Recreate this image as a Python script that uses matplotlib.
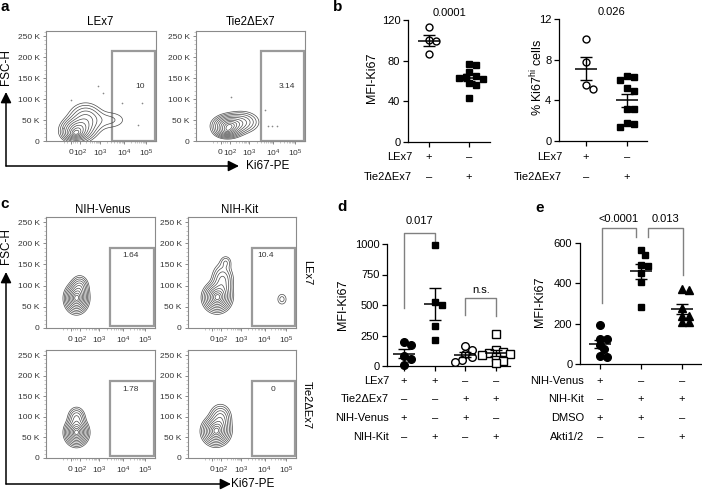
import numpy as np
import matplotlib
matplotlib.use('Agg')
import matplotlib.pyplot as plt
from matplotlib.patches import Rectangle

plt.rcParams['font.family'] = ['Liberation Sans', 'DejaVu Sans']
plt.rcParams['mathtext.fontset'] = 'custom'
plt.rcParams['mathtext.rm'] = 'Liberation Sans'
plt.rcParams['mathtext.it'] = 'Liberation Sans:italic'

W, H = 702, 491

# ---------------- data ----------------
# flow plots: density blobs (x in display units 0-1, y in K, sx, sy, weight)
blobs_a_lex7 = [(0.28, 26, 0.07, 14, 1.0), (0.36, 50, 0.08, 20, 0.5),
                (0.58, 50, 0.10, 14, 0.12), (0.26, 16, 0.05, 7, 0.5)]
blobs_a_tie2 = [(0.30, 36, 0.07, 12, 1.0), (0.42, 45, 0.08, 13, 0.35),
                (0.28, 22, 0.05, 7, 0.45)]
blobs_c_venus_lex7 = [(0.28, 70, 0.05, 16, 1.0), (0.31, 98, 0.04, 13, 0.3)]
blobs_c_kit_lex7 = [(0.27, 72, 0.06, 16, 1.0), (0.32, 112, 0.05, 20, 0.35),
                    (0.35, 155, 0.03, 9, 0.12), (0.87, 68, 0.03, 9, 0.1)]
blobs_c_venus_tie2 = [(0.28, 62, 0.05, 15, 1.0), (0.28, 98, 0.04, 13, 0.3)]
blobs_c_kit_tie2 = [(0.26, 65, 0.06, 16, 1.0), (0.30, 98, 0.05, 16, 0.35)]

# sparse events outside the contours (display x, K)
dots_a_lex7_x = [0.23, 0.47, 0.52, 0.69, 0.87, 0.15, 0.84]
dots_a_lex7_y = [98, 131, 114, 90, 91, 31, 38]
dots_a_tie2_x = [0.32, 0.63, 0.66, 0.70, 0.74]
dots_a_tie2_y = [104, 74, 36, 35, 35]

gate_pct_a = ['10', '3.14']
gate_pct_c = ['1.64', '10.4', '1.78', '0']

flow_xtick_labels = ['$0$', '$10^2$', '$10^3$', '$10^4$', '$10^5$']
flow_ytick_vals = [0, 50, 100, 150, 200, 250]
flow_ytick_labels = ['0', '50 K', '100 K', '150 K', '200 K', '250 K']

# panel b
b_mfi_lex7 = [113, 99, 100, 87]
b_mfi_tie2 = [77, 76, 69, 65, 64, 63, 62, 58, 56, 43]
b_pct_lex7 = [10.0, 7.8, 5.1, 5.5]
b_pct_tie2 = [6.3, 6.0, 6.4, 5.2, 4.9, 3.1, 3.1, 1.8, 1.4, 1.7]
b_rows = ['LEx7', 'Tie2\u0394Ex7']
b_signs = [['+', '\u2013'], ['\u2013', '+']]

# panel d
d_lex7_venus = [195, 170, 80, 55, 10]
d_lex7_kit = [988, 524, 497, 328, 212]
d_tie2_venus = [165, 130, 95, 70, 50, 35]
d_tie2_kit = [266, 130, 118, 108, 100, 92, 75, 40, 25]
d_rows = ['LEx7', 'Tie2\u0394Ex7', 'NIH-Venus', 'NIH-Kit']
d_signs = [['+', '+', '\u2013', '\u2013'], ['\u2013', '\u2013', '+', '+'],
           ['+', '\u2013', '+', '\u2013'], ['\u2013', '+', '\u2013', '+']]

# panel e
e_venus_dmso = [194, 123, 125, 95, 72, 36, 41]
e_kit_dmso = [563, 540, 485, 490, 449, 408, 281]
e_kit_akti = [367, 370, 276, 238, 238, 207, 210]
e_rows = ['NIH-Venus', 'NIH-Kit', 'DMSO', 'Akti1/2']
e_signs = [['+', '\u2013', '\u2013'], ['\u2013', '+', '+'],
           ['+', '+', '\u2013'], ['\u2013', '\u2013', '+']]

fig = plt.figure(figsize=(W / 100, H / 100), dpi=100)


def px_rect(l, t, r, b):
    return [l / W, 1 - b / H, (r - l) / W, (b - t) / H]


# overlay axes in pixel coordinates for labels and arrows
ov = fig.add_axes([0, 0, 1, 1])
ov.set_xlim(0, W)
ov.set_ylim(H, 0)
ov.axis('off')


def flow_plot(rect, blobs, gate_top, gate_bottom, gate_left, label, lab_xy, dots=None):
    ax = fig.add_axes(px_rect(*rect))
    xs = np.linspace(0, 1, 240)
    ys = np.linspace(0, 262.144, 240)
    X, Y = np.meshgrid(xs, ys)
    Z = np.zeros_like(X)
    for cx, cy, sx, sy, w in blobs:
        Z += w * np.exp(-0.5 * ((X - cx) / sx) ** 2 - 0.5 * ((Y - cy) / sy) ** 2)
    radii = np.linspace(0.35, 2.5, 10)
    levels = np.sort(np.exp(-0.5 * radii ** 2)) * Z.max()
    ax.contour(X, Y, Z, levels=levels, colors='#4a4a4a', linewidths=0.5)
    if dots is not None:
        ax.plot(dots[0], dots[1], ls='none', marker='o', ms=1.2, color='#888888', mew=0)
    ax.add_patch(Rectangle((gate_left, gate_bottom), 0.995 - gate_left, gate_top - gate_bottom,
                           fill=False, ec='#9a9a9a', lw=1.6, clip_on=False))
    ax.text(lab_xy[0], lab_xy[1], label, fontsize=6, ha='center', va='center', color='#333333')
    ax.set_xlim(0, 1)
    ax.set_ylim(0, 262.144)
    ax.set_xticks([0.225, 0.31, 0.49, 0.71, 0.91])
    ax.set_xticklabels(flow_xtick_labels)
    ax.set_yticks(flow_ytick_vals)
    ax.set_yticklabels(flow_ytick_labels)
    minor_x = []
    for p, w in [(0.31, 0.18), (0.49, 0.22), (0.71, 0.20)]:
        minor_x += [p + np.log10(k) * w for k in range(2, 10)]
    minor_x += [0.245, 0.265, 0.285, 0.16, 0.19]
    ax.set_xticks(minor_x, minor=True)
    ax.set_yticks(np.arange(0, 262, 10), minor=True)
    ax.tick_params(which='major', length=2.5, width=0.6, labelsize=6, pad=2,
                   colors='#777777', labelcolor='#333333')
    ax.tick_params(which='minor', length=1.5, width=0.4, colors='#999999')
    for s in ax.spines.values():
        s.set_color('#8a8a8a')
        s.set_linewidth(0.8)
    return ax


# ---- panel a ----
flow_plot((46, 31, 156, 141), blobs_a_lex7, 214, 1, 0.60, gate_pct_a[0], (0.855, 129),
          (dots_a_lex7_x, dots_a_lex7_y))
flow_plot((196, 31, 305, 141), blobs_a_tie2, 214, 1, 0.60, gate_pct_a[1], (0.83, 129),
          (dots_a_tie2_x, dots_a_tie2_y))
ov.text(100, 22, 'LEx7', fontsize=8.3, ha='center', va='center')
ov.text(251, 22, 'Tie2\u0394Ex7', fontsize=8.3, ha='center', va='center')

# ---- panel c ----
flow_plot((46, 217, 155, 328), blobs_c_venus_lex7, 189, 5, 0.59, gate_pct_c[0], (0.78, 172))
flow_plot((188, 217, 296, 328), blobs_c_kit_lex7, 189, 5, 0.59, gate_pct_c[1], (0.72, 172))
flow_plot((46, 350, 155, 458), blobs_c_venus_tie2, 187, 5, 0.59, gate_pct_c[2], (0.78, 167))
flow_plot((188, 350, 296, 458), blobs_c_kit_tie2, 187, 5, 0.59, gate_pct_c[3], (0.79, 167))
ov.text(103, 210, 'NIH-Venus', fontsize=8.3, ha='center', va='center')
ov.text(240, 210, 'NIH-Kit', fontsize=8.3, ha='center', va='center')
ov.text(307, 273, 'LEx7', fontsize=8, ha='center', va='center', rotation=-90)
ov.text(307, 405, 'Tie2\u0394Ex7', fontsize=8, ha='center', va='center', rotation=-90)

# axis arrows for flow panels
arrow_kw = dict(arrowstyle='-|>', color='black', lw=1.1, mutation_scale=16,
                shrinkA=0, shrinkB=0)
for corner, top_y, right_x, fsc_y, ki_x in [((6, 166), 92, 239, 67, 268),
                                             ((6, 484), 272, 231, 246, 253)]:
    ov.annotate('', xy=(corner[0], top_y), xytext=corner, arrowprops=arrow_kw)
    ov.annotate('', xy=(right_x, corner[1]), xytext=corner, arrowprops=arrow_kw)
    ov.text(corner[0], fsc_y, 'FSC-H', fontsize=8.5, rotation=90, ha='center', va='center')
    ov.text(ki_x, corner[1], 'Ki67-PE', fontsize=8.5, ha='center', va='center')


# ---- dot plots ----
def swarm(vals, xscale, yscale, d=7.0):
    offs = np.zeros(len(vals))
    placed = []
    for k in np.argsort(vals)[::-1]:
        ypx = vals[k] * yscale
        for step in [0, 1, -1, 2, -2, 3, -3, 4, -4, 5, -5]:
            xpx = step * d * 0.5
            if all((xpx - px) ** 2 + (ypx - py) ** 2 >= (0.8 * d) ** 2 for px, py in placed):
                break
        placed.append((xpx, ypx))
        offs[k] = xpx / xscale
    return offs


def dot_plot(rect, groups, styles, xlim, ylim, yticks, ylabel, ylab_xy,
             rows, signs, row_x, row_ys):
    ax = fig.add_axes(px_rect(*rect))
    xscale = (rect[2] - rect[0]) / (xlim[1] - xlim[0])
    yscale = (rect[3] - rect[1]) / (ylim[1] - ylim[0])
    for i, (vals, (mk, fc, ms)) in enumerate(zip(groups, styles)):
        vals = np.asarray(vals, dtype=float)
        offs = swarm(vals, xscale, yscale)
        ax.plot(i + offs, vals, ls='none', marker=mk, mfc=fc, mec='black', ms=ms,
                mew=1.0, clip_on=False, zorder=3)
        mean = vals.mean()
        sem = vals.std(ddof=1) / np.sqrt(len(vals))
        ax.plot([i], [mean], marker='_', ms=16, mew=1.1, color='black', zorder=4)
        ax.errorbar([i], [mean], yerr=[sem], fmt='none', ecolor='black', elinewidth=1.0,
                    capsize=4, capthick=1.0, zorder=4)
    ax.set_xlim(*xlim)
    ax.set_ylim(*ylim)
    ax.set_xticks(range(len(groups)))
    ax.set_xticklabels([])
    ax.set_yticks(yticks)
    ax.tick_params(length=3.5, width=0.9, labelsize=8, pad=2)
    for s in ['top', 'right']:
        ax.spines[s].set_visible(False)
    for s in ['left', 'bottom']:
        ax.spines[s].set_linewidth(0.9)
    ov.text(ylab_xy[0], ylab_xy[1], ylabel, fontsize=9, rotation=90, ha='center', va='center')
    for r, (name, sg) in enumerate(zip(rows, signs)):
        ov.text(row_x, row_ys[r], name, fontsize=8, ha='right', va='center')
        for i, s in enumerate(sg):
            xp = rect[0] + (i - xlim[0]) * xscale
            ov.text(xp, row_ys[r], s, fontsize=8, ha='center', va='center')
    return ax


def bracket(ax, x0, x1, top, yl, yr, label, ly):
    ax.plot([x0, x0, x1, x1], [yl, top, top, yr], color='#808080', lw=1.0, clip_on=False)
    ax.text((x0 + x1) / 2, ly, label, fontsize=8, ha='center', va='center')


# panel b
ax_b1 = dot_plot((408, 20, 490, 142), [b_mfi_lex7, b_mfi_tie2],
                 [('o', 'white', 5), ('s', 'black', 5)], (-0.525, 1.525), (0, 120),
                 [0, 40, 80, 120], 'MFI-Ki67', (372, 78), b_rows, b_signs, 412, [157, 177])
ax_b1.text(0.5, 127, '0.0001', fontsize=8, ha='center', va='center')
ax_b2 = dot_plot((559, 19, 647, 141), [b_pct_lex7, b_pct_tie2],
                 [('o', 'white', 5), ('s', 'black', 5)], (-0.66, 1.49), (0, 12),
                 [0, 4, 8, 12], '% Ki67$^{\\mathrm{hi}}$ cells', (537, 78), b_rows, b_signs,
                 562, [157, 177])
ax_b2.text(0.62, 12.7, '0.026', fontsize=8, ha='center', va='center')

# panel d
ax_d = dot_plot((387, 244, 510, 366), [d_lex7_venus, d_lex7_kit, d_tie2_venus, d_tie2_kit],
                [('o', 'black', 5.5), ('s', 'black', 5), ('o', 'white', 5.5), ('s', 'white', 5.5)],
                (-0.55, 3.45), (0, 1000), [0, 250, 500, 750, 1000], 'MFI-Ki67', (343, 305),
                d_rows, d_signs, 389, [381, 399, 418, 437])
bracket(ax_d, 0, 1, 1090, 475, 1008, '0.017', 1190)
bracket(ax_d, 2, 3, 557, 418, 412, 'n.s.', 623)

# panel e
ax_e = dot_plot((580, 243, 702, 364), [e_venus_dmso, e_kit_dmso, e_kit_akti],
                [('o', 'black', 5.5), ('s', 'black', 5), ('^', 'black', 5.5)],
                (-0.49, 2.49), (0, 600), [0, 200, 400, 600], 'MFI-Ki67', (540, 302),
                e_rows, e_signs, 584, [381, 399, 418, 437])
bracket(ax_e, 0.05, 0.87, 672, 302, 628, '<0.0001', 717)
bracket(ax_e, 1.17, 2.02, 672, 628, 441, '0.013', 717)

# panel letters
for letter, x, y in [('a', 5, 7), ('b', 338, 7), ('c', 5, 204), ('d', 342, 207), ('e', 540, 208)]:
    ov.text(x, y, letter, fontsize=11, fontweight='bold', ha='center', va='center')

fig.savefig('out.png', dpi=100)
